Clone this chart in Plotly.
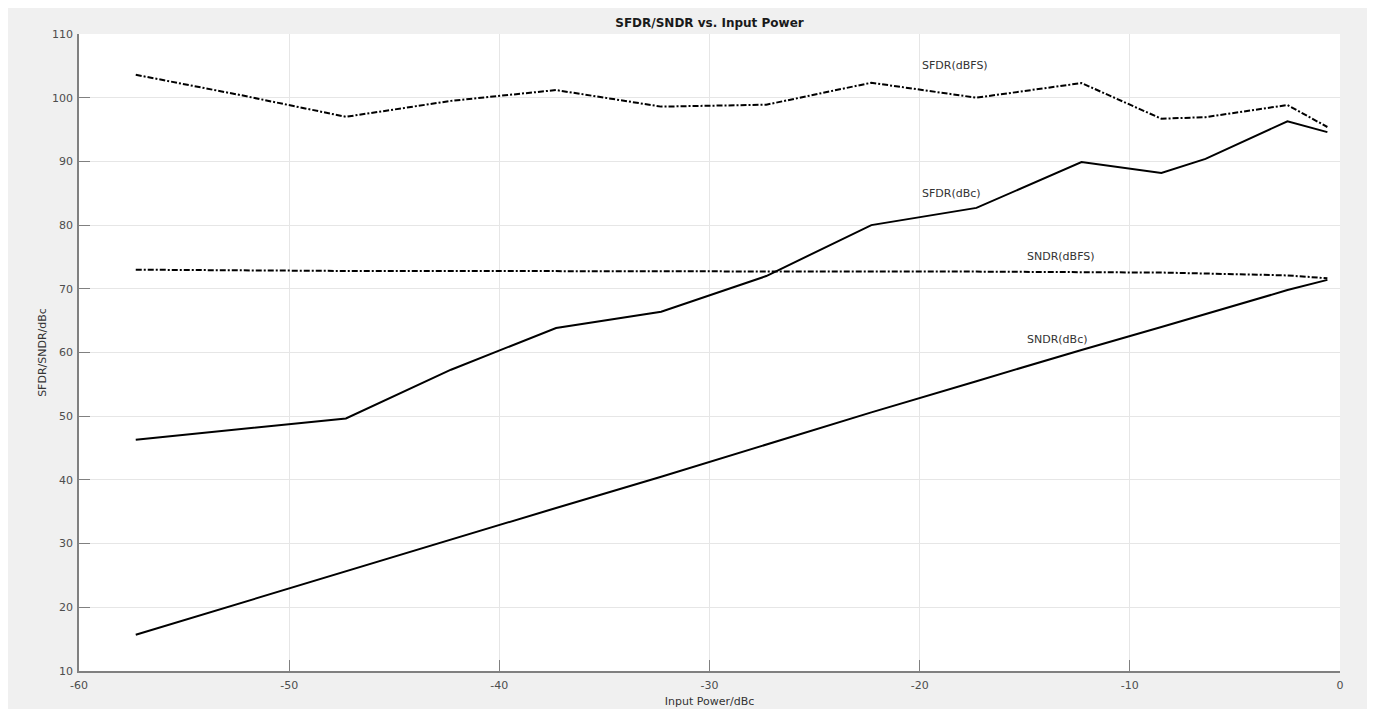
import plotly.graph_objects as go

input_power = [-57.3, -52.3, -47.3, -42.3, -37.3, -32.3, -27.3, -22.3, -17.3, -12.3, -8.5, -6.4, -2.5, -0.6]
sfdr_dbfs = [103.6, 100.4, 97.0, 99.5, 101.2, 98.6, 98.9, 102.35, 100.0, 102.3, 96.7, 96.95, 98.85, 95.4]
sfdr_dbc = [46.3, 47.95, 49.65, 57.3, 63.85, 66.4, 72.0, 80.0, 82.7, 89.9, 88.2, 90.4, 96.3, 94.6]
sndr_dbfs = [73.0, 72.85, 72.8, 72.8, 72.75, 72.75, 72.75, 72.7, 72.7, 72.65, 72.55, 72.4, 72.1, 71.65]
sndr_dbc = [15.7, 20.7, 25.7, 30.6, 35.6, 40.5, 45.6, 50.6, 55.5, 60.4, 64.0, 66.0, 69.8, 71.4]

labels = ["SFDR(dBFS)", "SFDR(dBc)", "SNDR(dBFS)", "SNDR(dBc)"]
label_x = [-20, -20, -15, -15]
label_y = [105, 85, 75, 62]

x_ticks = [-60, -50, -40, -30, -20, -10, 0]
y_ticks = [10, 20, 30, 40, 50, 60, 70, 80, 90, 100, 110]

DASHDOT = "6px,2px,2px,2px"
series = [
    (sfdr_dbfs, DASHDOT),
    (sfdr_dbc, "solid"),
    (sndr_dbfs, DASHDOT),
    (sndr_dbc, "solid"),
]

fig = go.Figure()
for vals, dash in series:
    fig.add_trace(go.Scatter(
        x=input_power, y=vals, mode="lines",
        line=dict(color="black", width=2, dash=dash),
        showlegend=False, hoverinfo="skip",
    ))

for t, lx, ly in zip(labels, label_x, label_y):
    fig.add_annotation(x=lx, y=ly, text=t, showarrow=False, xanchor="left", yanchor="middle",
                       font=dict(family="DejaVu Sans", size=11, color="#333333"))

# page has an 8px body margin; figure offset accordingly
W, H = 1367, 701
ml, mr, mt, mb = 71, 35, 26, 38
pw = W - ml - mr

# white strip at the right edge of the window (outside the grey figure panel)
fig.add_shape(type="rect", xref="paper", yref="paper",
              x0=(1360 - ml) / pw, x1=(W + 5 - ml) / pw, y0=-0.2, y1=1.2,
              fillcolor="white", line=dict(width=0), layer="above")

axis_common = dict(
    showgrid=True, gridcolor="#e6e6e6", gridwidth=1,
    showline=True, linecolor="#808080", linewidth=1.5,
    ticks="inside", ticklen=11, tickcolor="#808080", tickwidth=1,
    zeroline=False, mirror=False, automargin=False,
    tickfont=dict(family="DejaVu Sans", size=11, color="#4d4d4d"),
)

fig.update_xaxes(range=[-60, 0], tickvals=x_ticks, ticktext=[str(v) for v in x_ticks],
                 ticklabelstandoff=3,
                 title=dict(text="Input Power/dBc", standoff=6,
                            font=dict(family="DejaVu Sans", size=11, color="#333333")),
                 **axis_common)
fig.update_yaxes(range=[10, 110], tickvals=y_ticks, ticktext=[str(v) for v in y_ticks],
                 ticklabelstandoff=2,
                 title=dict(text="SFDR/SNDR/dBc", standoff=3,
                            font=dict(family="DejaVu Sans", size=11, color="#333333")),
                 **axis_common)

fig.update_layout(
    width=W, height=H,
    margin=dict(l=ml, r=mr, t=mt, b=mb, pad=0),
    paper_bgcolor="#f0f0f0", plot_bgcolor="white",
    title=dict(text="<b>SFDR/SNDR vs. Input Power</b>", x=0.5, xref="paper", xanchor="center",
               y=1 - 15 / H, yanchor="middle",
               font=dict(family="DejaVu Sans", size=12, color="#1a1a1a")),
)

fig.write_html("out.html")
